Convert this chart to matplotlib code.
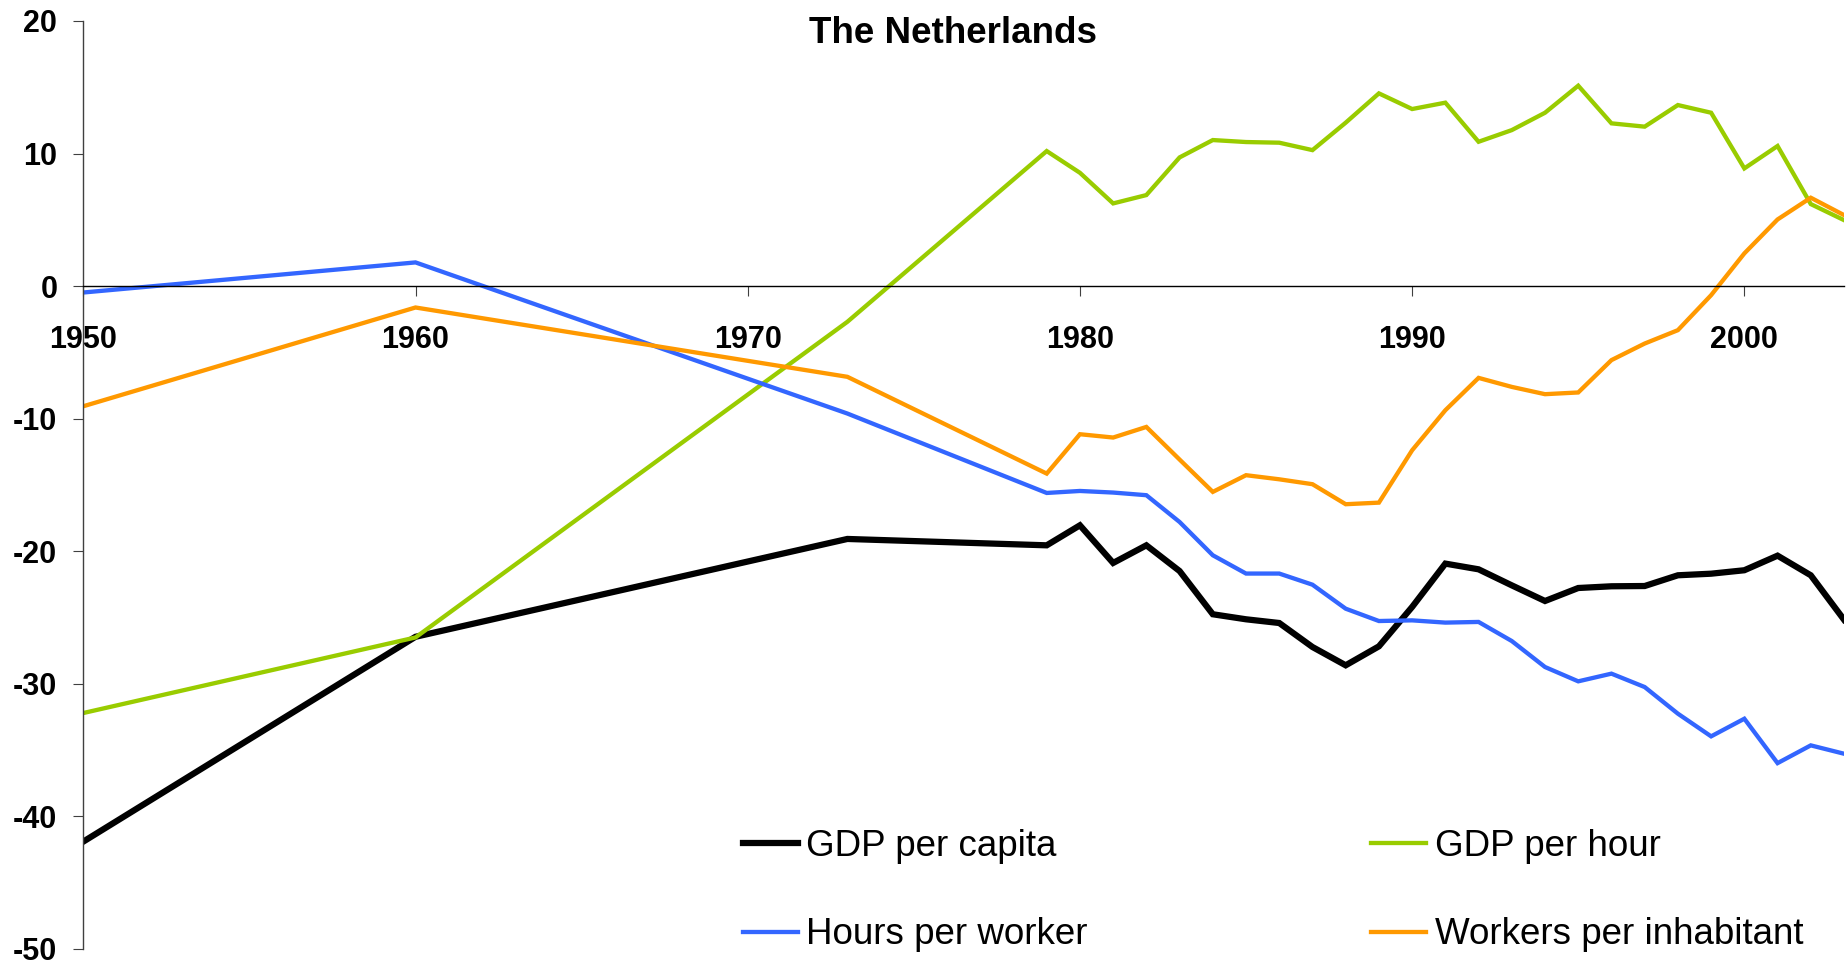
import matplotlib
matplotlib.use("Agg")
import matplotlib.pyplot as plt

plt.rcParams['font.family'] = ['Liberation Sans', 'DejaVu Sans']
plt.rcParams['axes.unicode_minus'] = False

# years with data points
years = [1950, 1960, 1973, 1979, 1980, 1981, 1982, 1983, 1984, 1985, 1986,
         1987, 1988, 1989, 1990, 1991, 1992, 1993, 1994, 1995, 1996, 1997,
         1998, 1999, 2000, 2001, 2002, 2003]

gdp_per_capita = [-41.9, -26.45, -19.07, -19.55, -18.04, -20.88, -19.55, -21.49,
                  -24.75, -25.13, -25.41, -27.22, -28.6, -27.17, -24.2, -20.93,
                  -21.36, -22.57, -23.75, -22.77, -22.64, -22.62, -21.81, -21.69,
                  -21.43, -20.33, -21.81, -25.16]

gdp_per_hour = [-32.2, -26.5, -2.69, 10.19, 8.55, 6.24, 6.87, 9.71, 11.02, 10.87,
                10.82, 10.26, 12.33, 14.54, 13.36, 13.84, 10.89, 11.77, 13.08,
                15.12, 12.28, 12.03, 13.66, 13.08, 8.88, 10.57, 6.19, 4.98]

hours_per_worker = [-0.48, 1.79, -9.61, -15.6, -15.45, -15.57, -15.77, -17.79,
                    -20.3, -21.68, -21.68, -22.52, -24.33, -25.26, -25.21, -25.38,
                    -25.33, -26.77, -28.73, -29.81, -29.23, -30.24, -32.25, -33.96,
                    -32.63, -35.98, -34.64, -35.27]

workers_per_inhabitant = [-9.06, -1.61, -6.84, -14.14, -11.17, -11.42, -10.62,
                          -13.08, -15.52, -14.26, -14.57, -14.94, -16.45, -16.33,
                          -12.38, -9.36, -6.92, -7.6, -8.15, -8.02, -5.58, -4.33,
                          -3.32, -0.68, 2.47, 5.03, 6.67, 5.36]

x_ticks = [1950, 1960, 1970, 1980, 1990, 2000]
y_ticks = [-50, -40, -30, -20, -10, 0, 10, 20]

fig = plt.figure(figsize=(18.48, 9.65), dpi=100)
ax = fig.add_axes([83.3 / 1848, 16 / 965, (1844 - 83.3) / 1848, (949 - 21) / 965])

l_cap, = ax.plot(years, gdp_per_capita, color='black', lw=4.5, label='GDP per capita',
                 solid_joinstyle='miter')
l_hour, = ax.plot(years, gdp_per_hour, color='#99CC00', lw=3.1, label='GDP per hour',
                  solid_joinstyle='miter')
l_hpw, = ax.plot(years, hours_per_worker, color='#3366FF', lw=3.1, label='Hours per worker',
                 solid_joinstyle='miter')
l_wpi, = ax.plot(years, workers_per_inhabitant, color='#FF9900', lw=3.1,
                 label='Workers per inhabitant', solid_joinstyle='miter')

ax.set_xlim(1950, 2003)
ax.set_ylim(-50, 20)

ax.spines['top'].set_visible(False)
ax.spines['right'].set_visible(False)
ax.spines['bottom'].set_position(('data', 0))
ax.spines['bottom'].set_color('black')
ax.spines['bottom'].set_linewidth(1.0)
ax.spines['left'].set_color('#404040')
ax.spines['left'].set_linewidth(1.0)

ax.set_xticks(x_ticks)
ax.set_yticks(y_ticks)
ax.tick_params(axis='x', direction='out', length=7.2, width=0.8, color='#404040',
               pad=20.5, labelsize=22)
ax.tick_params(axis='y', direction='out', length=7.2, width=0.8, color='#404040',
               pad=11.5, labelsize=22)
for lab in ax.get_xticklabels() + ax.get_yticklabels():
    lab.set_fontweight('bold')

fig.text(953 / 1848, (965 - 42.7) / 965, 'The Netherlands', ha='center', va='baseline',
         fontsize=26.5, fontweight='bold')

ax.legend([l_cap, l_hpw, l_hour, l_wpi],
          ['GDP per capita', 'Hours per worker', 'GDP per hour', 'Workers per inhabitant'],
          ncol=2, loc='lower left', bbox_to_anchor=(743 / 1848, 12.5 / 965),
          bbox_transform=fig.transFigure, frameon=False, fontsize=26.5,
          handlelength=1.5, handletextpad=0.22, columnspacing=7.7,
          labelspacing=1.45, borderpad=0, borderaxespad=0)

fig.savefig('out.png', dpi=100, facecolor='white')
